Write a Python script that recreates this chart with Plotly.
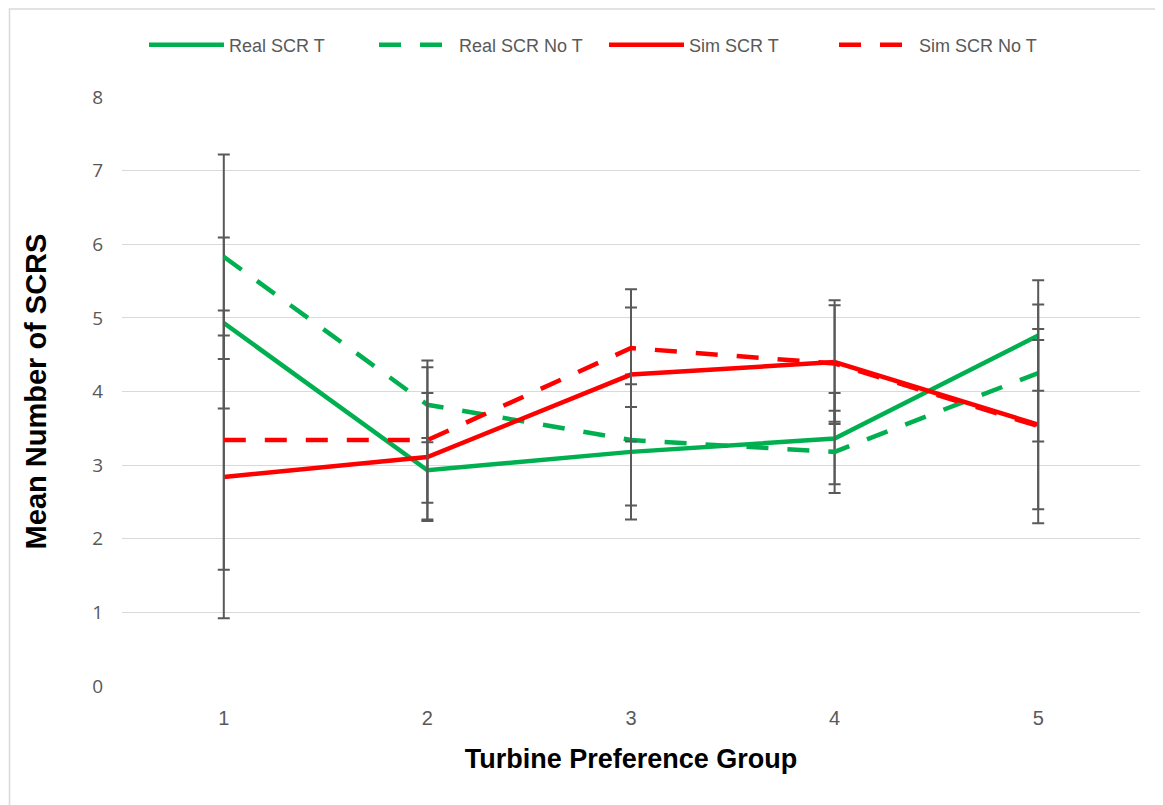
import plotly.graph_objects as go

# Turbine preference groups
groups = [1, 2, 3, 4, 5]

# Mean number of SCRs per group
real_t = [4.93, 2.93, 3.18, 3.36, 4.76]
real_no_t = [5.83, 3.82, 3.34, 3.18, 4.25]
sim_t = [2.84, 3.11, 4.23, 4.40, 3.55]
sim_no_t = [3.34, 3.34, 4.59, 4.38, 3.53]

# Symmetric error bar half-lengths
real_t_err = [1.16, 0.44, 0.92, 0.62, 0.75]
real_no_t_err = [1.39, 0.51, 0.89, 0.56, 0.93]
sim_t_err = [1.92, 0.87, 0.91, 0.84, 1.15]
sim_no_t_err = [1.76, 1.08, 0.80, 0.79, 1.32]

GREEN = "#00B050"
RED = "#FF0000"
GREY = "#595959"
SANS = "Liberation Sans, Arial, sans-serif"

series = [
    ("Real SCR T", real_t, real_t_err, GREEN, "solid"),
    ("Real SCR No T", real_no_t, real_no_t_err, GREEN, "22px,19px"),
    ("Sim SCR T", sim_t, sim_t_err, RED, "solid"),
    ("Sim SCR No T", sim_no_t, sim_no_t_err, RED, "22px,19px"),
]

fig = go.Figure()
for name, vals, errs, color, dash in series:
    fig.add_trace(
        go.Scatter(
            x=groups,
            y=vals,
            name=name,
            mode="lines",
            line=dict(color=color, width=4.5, dash=dash),
            error_y=dict(
                type="data",
                array=errs,
                visible=True,
                color=GREY,
                thickness=2,
                width=6,
            ),
        )
    )

# the page body adds an 8px offset, so the figure is drawn 8px smaller
fig.update_layout(
    width=1155,
    height=797,
    margin=dict(l=114, r=23, t=89, b=119),
    paper_bgcolor="white",
    plot_bgcolor="white",
    showlegend=True,
    legend=dict(
        orientation="h",
        x=0.0216,
        xanchor="left",
        y=1.088,
        yanchor="middle",
        font=dict(family=SANS, size=18, color=GREY),
        entrywidth=140,
        itemwidth=75,
    ),
    xaxis=dict(
        range=[0.5, 5.5],
        tickvals=groups,
        showgrid=False,
        zeroline=False,
        showline=False,
        ticks="outside",
        ticklen=14,
        tickcolor="rgba(0,0,0,0)",
        tickfont=dict(family=SANS, size=20, color=GREY),
        title=dict(
            text="Turbine Preference Group",
            font=dict(family=SANS, size=27, color="black", weight="bold"),
            standoff=21,
        ),
    ),
    yaxis=dict(
        range=[0, 8],
        dtick=1,
        showgrid=True,
        gridcolor="#D9D9D9",
        gridwidth=1.3,
        zeroline=False,
        showline=False,
        ticks="outside",
        ticklen=14,
        tickcolor="rgba(0,0,0,0)",
        tickfont=dict(family="Open Sans, sans-serif", size=19, color=GREY),
        title=dict(
            text="Mean Number of SCRS",
            font=dict(family=SANS, size=29, color="black", weight="bold"),
            standoff=37,
        ),
    ),
    shapes=[
        dict(
            type="rect",
            xref="paper",
            yref="paper",
            x0=-0.1105,
            x1=1.05,
            y0=-0.25,
            y1=1.1494,
            line=dict(color="#D9D9D9", width=1.5),
            fillcolor="rgba(0,0,0,0)",
            layer="below",
        )
    ],
)

fig.write_html("out.html")
